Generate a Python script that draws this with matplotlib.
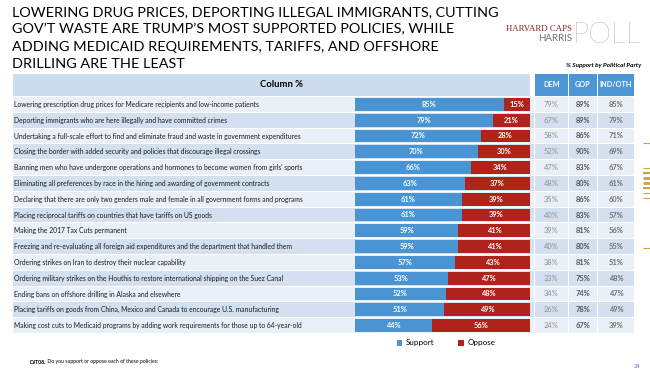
import matplotlib
matplotlib.use("Agg")
import matplotlib.pyplot as plt
from matplotlib.patches import Rectangle

plt.rcParams['font.family'] = ['Lato', 'DejaVu Sans']

title = ("LOWERING DRUG PRICES, DEPORTING ILLEGAL IMMIGRANTS, CUTTING\n"
         "GOV\u2019T WASTE ARE TRUMP\u2019S MOST SUPPORTED POLICIES, WHILE\n"
         "ADDING MEDICAID REQUIREMENTS, TARIFFS, AND OFFSHORE\n"
         "DRILLING ARE THE LEAST")

policies = [
    "Lowering prescription drug prices for Medicare recipients and low-income patients",
    "Deporting immigrants who are here illegally and have committed crimes",
    "Undertaking a full-scale effort to find and eliminate fraud and waste in government expenditures",
    "Closing the border with added security and policies that discourage illegal crossings",
    "Banning men who have undergone operations and hormones to become women from girls' sports",
    "Eliminating all preferences by race in the hiring and awarding of government contracts",
    "Declaring that there are only two genders male and female in all government forms and programs",
    "Placing reciprocal tariffs on countries that have tariffs on US goods",
    "Making the 2017 Tax Cuts permanent",
    "Freezing and re-evaluating all foreign aid expenditures and the department that handled them",
    "Ordering strikes on Iran to destroy their nuclear capability",
    "Ordering military strikes on the Houthis to restore international shipping on the Suez Canal",
    "Ending bans on offshore drilling in Alaska and elsewhere",
    "Placing tariffs on goods from China, Mexico and Canada to encourage U.S. manufacturing",
    "Making cost cuts to Medicaid programs by adding work requirements for those up to 64-year-old",
]

support = [85, 79, 72, 70, 66, 63, 61, 61, 59, 59, 57, 53, 52, 51, 44]
oppose = [15, 21, 28, 30, 34, 37, 39, 39, 41, 41, 43, 47, 48, 49, 56]
dem = [79, 67, 58, 52, 47, 48, 35, 40, 39, 40, 38, 33, 34, 26, 24]
gop = [89, 89, 86, 90, 83, 80, 86, 83, 81, 80, 81, 75, 74, 78, 67]
ind = [85, 79, 71, 69, 67, 61, 60, 57, 56, 55, 51, 48, 47, 49, 39]
party_headers = ["DEM", "GOP", "IND/OTH"]

n = len(policies)
W, H = 650, 375
fig = plt.figure(figsize=(W / 100, H / 100), dpi=100)
ax0 = fig.add_axes([0, 0, 1, 1])
ax0.set_xlim(0, W)
ax0.set_ylim(H, 0)
ax0.axis('off')

BLUE = '#4A94D4'
RED = '#B0231B'
HDR = '#CDDCEE'
ROW_A = '#EAF0F8'
ROW_B = '#D3E0EF'
PARTY_HDR = '#4D96D6'

# title
ax0.text(12, 6, title, ha='left', va='top', fontsize=10.4, color='black',
         linespacing=1.52, family=['Liberation Sans Narrow', 'Lato'])

# logo
ax0.text(572, 29, "HARVARD CAPS", ha='right', va='center', fontsize=6.3,
         family=['Liberation Serif', 'DejaVu Serif'], color='#8B2027')
ax0.text(572, 38.5, "HARRIS", ha='right', va='center', fontsize=7.0,
         color='#6E6E6E')
ax0.text(573, 35, "POLL", ha='left', va='center', fontsize=21,
         color='#8C8C8C', fontweight='light')

ax0.text(641, 66, "% Support by Political Party", ha='right', va='center',
         fontsize=4.6, fontstyle='italic', fontweight='bold', color='black')

# table geometry
x_left, x_bar0, x_bar1 = 13, 355, 530
party_x = [(535, 567.5), (568.5, 597), (598, 634)]
hdr_top, hdr_bot = 74, 95.5
row_top = 96.5
pitch = 15.8

ax0.add_patch(Rectangle((x_left, hdr_top), x_bar1 - x_left, hdr_bot - hdr_top,
                        color=HDR, lw=0))
ax0.text((x_left + x_bar1) / 2 + 10, (hdr_top + hdr_bot) / 2, "Column %",
         ha='center', va='center', fontsize=6.8, fontweight='bold')
for (a, b), lab in zip(party_x, party_headers):
    ax0.add_patch(Rectangle((a, hdr_top), b - a, hdr_bot - hdr_top,
                            color=PARTY_HDR, lw=0))
    ax0.text((a + b) / 2, (hdr_top + hdr_bot) / 2, lab, ha='center',
             va='center', fontsize=5.2, fontweight='bold', color='white')

for i, pol in enumerate(policies):
    top = row_top + i * pitch
    c = ROW_A if i % 2 == 0 else ROW_B
    ax0.add_patch(Rectangle((x_left, top + 0.5), x_bar1 + 4 - x_left, pitch - 1,
                            color=c, lw=0))
    for (a, b) in party_x:
        ax0.add_patch(Rectangle((a, top + 0.5), b - a, pitch - 1, color=c, lw=0))
    yc = top + pitch / 2
    ax0.text(x_left + 1, yc, pol, ha='left', va='center', fontsize=4.85,
             color='#1a1a1a')
    for (a, b), vals, col, fw in zip(party_x, [dem, gop, ind],
                                     ['#8E8E8E', '#555555', '#707070'],
                                     ['normal', 'bold', 'bold']):
        ax0.text((a + b) / 2, yc, f"{vals[i]}%", ha='center', va='center',
                 fontsize=5.4, color=col, fontweight=fw)

# bars
axb = fig.add_axes([x_bar0 / W, 1 - (row_top + n * pitch) / H,
                    (x_bar1 - x_bar0) / W, n * pitch / H])
axb.set_xlim(0, 100)
axb.set_ylim(n - 0.5, -0.5)
axb.axis('off')
ypos = list(range(n))
bs = axb.barh(ypos, support, height=0.82, color=BLUE, lw=0)
bo = axb.barh(ypos, oppose, left=support, height=0.82, color=RED, lw=0)
for i in range(n):
    axb.text(support[i] / 2, i, f"{support[i]}%", ha='center', va='center',
             color='white', fontsize=5.4, fontweight='bold')
    axb.text(support[i] + oppose[i] / 2, i, f"{oppose[i]}%", ha='center',
             va='center', color='white', fontsize=5.4, fontweight='bold')

# legend
leg = fig.legend([bs, bo], ["Support", "Oppose"], loc='center',
                 bbox_to_anchor=(446 / W, 1 - 343 / H), ncol=2, frameon=False,
                 fontsize=5.8, handlelength=0.7, handleheight=0.7,
                 columnspacing=3.0, handletextpad=0.4)

# footnote
t1 = ax0.text(30, 362, "DJT08.", ha='left', va='center', fontsize=3.7,
              fontweight='bold')
ax0.annotate(" Do you support or oppose each of these policies:",
             xy=(1, 0.5), xycoords=t1, ha='left', va='center', fontsize=3.7)
ax0.text(637, 366, "24", ha='center', va='center', fontsize=4.2, color='#4A7DBA')

# decorative gold marks at right edge
for y, lw in [(143, 0.8), (168, 0.8), (173, 1.5), (178, 2.0), (183, 2.0),
              (188, 1.5), (193, 0.8), (198, 0.8), (248, 0.8)]:
    ax0.plot([643, 650], [y, y], color='#C9A24A', lw=lw, solid_capstyle='butt')

fig.savefig("out.png", dpi=100)
